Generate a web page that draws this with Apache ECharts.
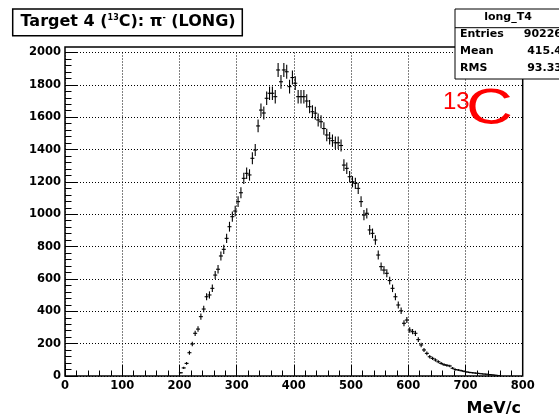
<!DOCTYPE html>
<html>
<head>
<meta charset="utf-8">
<script src="https://cdn.jsdelivr.net/npm/echarts@6/dist/echarts.min.js"></script>
<style>
  html, body { margin: 0; padding: 0; background: #fff; }
  #chart { width: 559px; height: 417px; }
</style>
</head>
<body>
<div id="chart"></div>
<script>
// bin centres in MeV/c (5 MeV/c bins)
var momentum = [
  202.5, 207.5, 212.5, 217.5, 222.5, 227.5, 232.5, 237.5, 242.5, 247.5,
  252.5, 257.5, 262.5, 267.5, 272.5, 277.5, 282.5, 287.5, 292.5, 297.5,
  302.5, 307.5, 312.5, 317.5, 322.5, 327.5, 332.5, 337.5, 342.5, 347.5,
  352.5, 357.5, 362.5, 367.5, 372.5, 377.5, 382.5, 387.5, 392.5, 397.5,
  402.5, 407.5, 412.5, 417.5, 422.5, 427.5, 432.5, 437.5, 442.5, 447.5,
  452.5, 457.5, 462.5, 467.5, 472.5, 477.5, 482.5, 487.5, 492.5, 497.5,
  502.5, 507.5, 512.5, 517.5, 522.5, 527.5, 532.5, 537.5, 542.5, 547.5,
  552.5, 557.5, 562.5, 567.5, 572.5, 577.5, 582.5, 587.5, 592.5, 597.5,
  602.5, 607.5, 612.5, 617.5, 622.5, 627.5, 632.5, 637.5, 642.5, 647.5,
  652.5, 657.5, 662.5, 667.5, 672.5, 677.5, 682.5, 687.5, 692.5, 697.5,
  702.5, 707.5, 712.5, 717.5, 722.5, 727.5, 732.5, 737.5, 742.5, 747.5,
  752.5, 757.5
];
// entries per bin
var counts = [
  20, 50, 78, 144, 198, 264, 290, 367, 414, 490,
  501, 542, 624, 660, 742, 783, 851, 923, 985, 1020,
  1078, 1133, 1222, 1253, 1243, 1346, 1397, 1546, 1644, 1626,
  1717, 1748, 1748, 1727, 1892, 1819, 1892, 1881, 1789, 1845,
  1810, 1727, 1727, 1727, 1700, 1665, 1634, 1625, 1583, 1572,
  1530, 1490, 1470, 1455, 1442, 1442, 1425, 1304, 1284, 1232,
  1201, 1191, 1160, 1078, 995, 1006, 903, 882, 841, 748,
  676, 655, 635, 590, 542, 490, 439, 403, 326, 346,
  284, 274, 264, 225, 192, 161, 140, 119, 109, 99,
  88, 78, 70, 66, 62, 48, 40, 37, 33, 29,
  25, 22, 20, 18, 16, 14, 12, 11, 9, 7,
  5, 3
];
var statsNames = ['Entries', 'Mean', 'RMS'];
var statsValues = ['90226', '415.4', '93.33'];

var FONT = 'DejaVu Sans';

var chart = echarts.init(document.getElementById('chart'));

// error bar cross: sqrt(N) vertical, small horizontal bar
function renderItem (params, api) {
  var x = api.value(0);
  var y = api.value(1);
  var e = Math.sqrt(y);
  var c = api.coord([x, y]);
  var t = api.coord([x, y + e]);
  var b = api.coord([x, y - e]);
  var st = { stroke: '#000', lineWidth: 1.1 };
  return {
    type: 'group',
    children: [
      { type: 'line', shape: { x1: c[0] - 2, y1: c[1], x2: c[0] + 2, y2: c[1] }, style: st },
      { type: 'line', shape: { x1: t[0], y1: t[1], x2: b[0], y2: b[1] }, style: st }
    ]
  };
}

var statsTexts = [];
statsNames.forEach(function (n, i) {
  statsTexts.push({
    type: 'text', z: 31,
    style: { text: n, x: 460, y: 34.5 + i * 16.8, verticalAlign: 'middle',
      fontFamily: FONT, fontWeight: 'bold', fontSize: 11, fill: '#000' }
  });
  statsTexts.push({
    type: 'text', z: 31,
    style: { text: statsValues[i], x: 562, y: 34.5 + i * 16.8, align: 'right', verticalAlign: 'middle',
      fontFamily: FONT, fontWeight: 'bold', fontSize: 11, fill: '#000' }
  });
});

var option = {
  backgroundColor: '#fff',
  animation: false,
  grid: { left: 65, right: 36.3, top: 52.5, bottom: 41 },
  xAxis: {
    type: 'value',
    min: 0,
    max: 800,
    interval: 100,
    axisLine: { show: false },
    axisTick: { inside: true, length: 11, lineStyle: { color: '#000', width: 1 } },
    minorTick: { show: true, splitNumber: 5, length: 5.5, lineStyle: { color: '#000', width: 1 } },
    splitLine: { show: true, lineStyle: { color: '#000', width: 1, type: [1, 2] } },
    axisLabel: { color: '#000', fontFamily: FONT, fontWeight: 'bold', fontSize: 11.5, margin: 4,
      formatter: function (v) { return String(v); } }
  },
  yAxis: {
    type: 'value',
    min: 0,
    max: 2000,
    interval: 200,
    axisLine: { show: false },
    axisTick: { inside: true, length: 13, lineStyle: { color: '#000', width: 1 } },
    minorTick: { show: true, splitNumber: 5, length: 6.5, lineStyle: { color: '#000', width: 1 } },
    splitLine: { show: true, lineStyle: { color: '#000', width: 1, type: [1, 2] } },
    axisLabel: { color: '#000', fontFamily: FONT, fontWeight: 'bold', fontSize: 11.5, margin: 4,
      formatter: function (v) { return String(v); } }
  },
  series: [
    {
      type: 'custom',
      renderItem: renderItem,
      encode: { x: 0, y: 1 },
      data: momentum.map(function (m, i) { return [m, counts[i]]; }),
      z: 3
    }
  ],
  graphic: [
    // plot frame
    { type: 'rect', z: 10, shape: { x: 65, y: 47, width: 457.7, height: 329 },
      style: { fill: 'none', stroke: '#000', lineWidth: 1.5 } },
    // title box
    { type: 'rect', z: 20, shape: { x: 12.7, y: 9, width: 229.6, height: 26.7 },
      style: { fill: '#fff', stroke: '#000', lineWidth: 1.5 } },
    { type: 'text', z: 21,
      style: {
        text: '{a|Target 4 (}{s|13}{a|C): π}{s|-}{a| (LONG)}',
        x: 20.5, y: 22.3, verticalAlign: 'middle',
        rich: {
          a: { fontFamily: FONT, fontWeight: 'bold', fontSize: 16, fill: '#000' },
          s: { fontFamily: FONT, fontWeight: 'bold', fontSize: 8, fill: '#000', verticalAlign: 'top' }
        }
      } },
    // stats box
    { type: 'rect', z: 30, shape: { x: 455, y: 9, width: 115, height: 70 },
      style: { fill: '#fff', stroke: '#000', lineWidth: 1 } },
    { type: 'line', z: 31, shape: { x1: 455, y1: 27.7, x2: 570, y2: 27.7 },
      style: { stroke: '#000', lineWidth: 1 } },
    { type: 'text', z: 31,
      style: { text: 'long_T4', x: 508, y: 17.5, align: 'center', verticalAlign: 'middle',
        fontFamily: FONT, fontWeight: 'bold', fontSize: 11, fill: '#000' } }
  ].concat(statsTexts).concat([
    // red isotope label
    { type: 'text', z: 25,
      style: { text: '13', x: 443, y: 102, verticalAlign: 'middle',
        fontFamily: 'Liberation Sans', fontSize: 24, fill: '#ff0000' } },
    { type: 'text', z: 25, x: 466, y: 110, scaleX: 1.3,
      style: { text: 'C', x: 0, y: 0, verticalAlign: 'middle',
        fontFamily: 'Liberation Sans', fontSize: 50, fill: '#ff0000' } },
    // axis title
    { type: 'text', z: 25,
      style: { text: 'MeV/c', x: 521, y: 409, align: 'right', verticalAlign: 'middle',
        fontFamily: FONT, fontWeight: 'bold', fontSize: 16, fill: '#000' } }
  ])
};

chart.setOption(option, true);
</script>
</body>
</html>
